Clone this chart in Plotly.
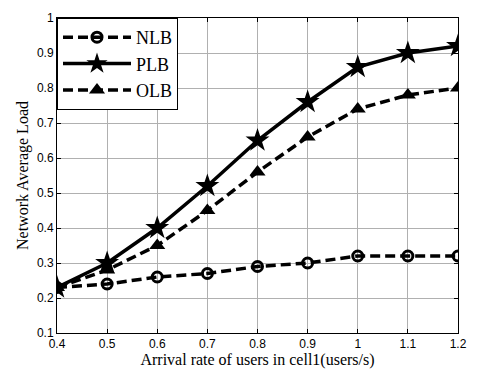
import plotly.graph_objects as go

x = [0.4, 0.5, 0.6, 0.7, 0.8, 0.9, 1.0, 1.1, 1.2]
nlb = [0.23, 0.24, 0.26, 0.27, 0.29, 0.30, 0.32, 0.32, 0.32]
plb = [0.23, 0.30, 0.40, 0.52, 0.65, 0.76, 0.86, 0.90, 0.92]
olb = [0.23, 0.28, 0.35, 0.45, 0.56, 0.66, 0.74, 0.78, 0.80]
xticks = [0.4, 0.5, 0.6, 0.7, 0.8, 0.9, 1.0, 1.1, 1.2]
xticklabels = ["0.4", "0.5", "0.6", "0.7", "0.8", "0.9", "1", "1.1", "1.2"]
yticks = [0.1, 0.2, 0.3, 0.4, 0.5, 0.6, 0.7, 0.8, 0.9, 1.0]
yticklabels = ["0.1", "0.2", "0.3", "0.4", "0.5", "0.6", "0.7", "0.8", "0.9", "1"]

DASH = "10px,5px"
fig = go.Figure()
fig.add_trace(go.Scatter(x=x, y=nlb, name="NLB", mode="lines+markers",
                         line=dict(color="black", width=3.5, dash=DASH),
                         marker=dict(symbol="circle-open", size=10, color="black",
                                     line=dict(width=3, color="black"))))
fig.add_trace(go.Scatter(x=x, y=plb, name="PLB", mode="lines+markers",
                         line=dict(color="black", width=3.5),
                         marker=dict(symbol="star", size=18, color="black")))
fig.add_trace(go.Scatter(x=x, y=olb, name="OLB", mode="lines+markers",
                         line=dict(color="black", width=3.5, dash=DASH),
                         marker=dict(symbol="triangle-up", size=14, color="black")))

axis_common = dict(showgrid=True, gridcolor="#b0b0b0", gridwidth=1,
                   showline=True, linecolor="black", linewidth=1, mirror="ticks",
                   ticks="inside", ticklen=4, tickcolor="black", zeroline=False,
                   tickfont=dict(family="Liberation Sans, Arial", size=12, color="black"))

fig.update_xaxes(range=[0.4, 1.2], tickvals=xticks, ticktext=xticklabels,
                 title=dict(text="Arrival rate of users in cell1(users/s)",
                            font=dict(family="Liberation Serif, Times New Roman", size=16, color="black"),
                            standoff=0),
                 **axis_common)
fig.update_yaxes(range=[0.1, 1.0], tickvals=yticks, ticktext=yticklabels,
                 title=dict(text="Network Average Load",
                            font=dict(family="Liberation Serif, Times New Roman", size=16, color="black"),
                            standoff=4),
                 **axis_common)

fig.update_layout(width=478, height=374,
                  margin=dict(l=57, r=11, t=13, b=40),
                  plot_bgcolor="white", paper_bgcolor="white",
                  legend=dict(x=0, y=1, xanchor="left", yanchor="top",
                              bgcolor="white", bordercolor="black", borderwidth=1,
                              font=dict(family="Liberation Serif, Times New Roman", size=18, color="black"),
                              itemwidth=68, tracegroupgap=0),
                  showlegend=True)

fig.write_html("out.html")
